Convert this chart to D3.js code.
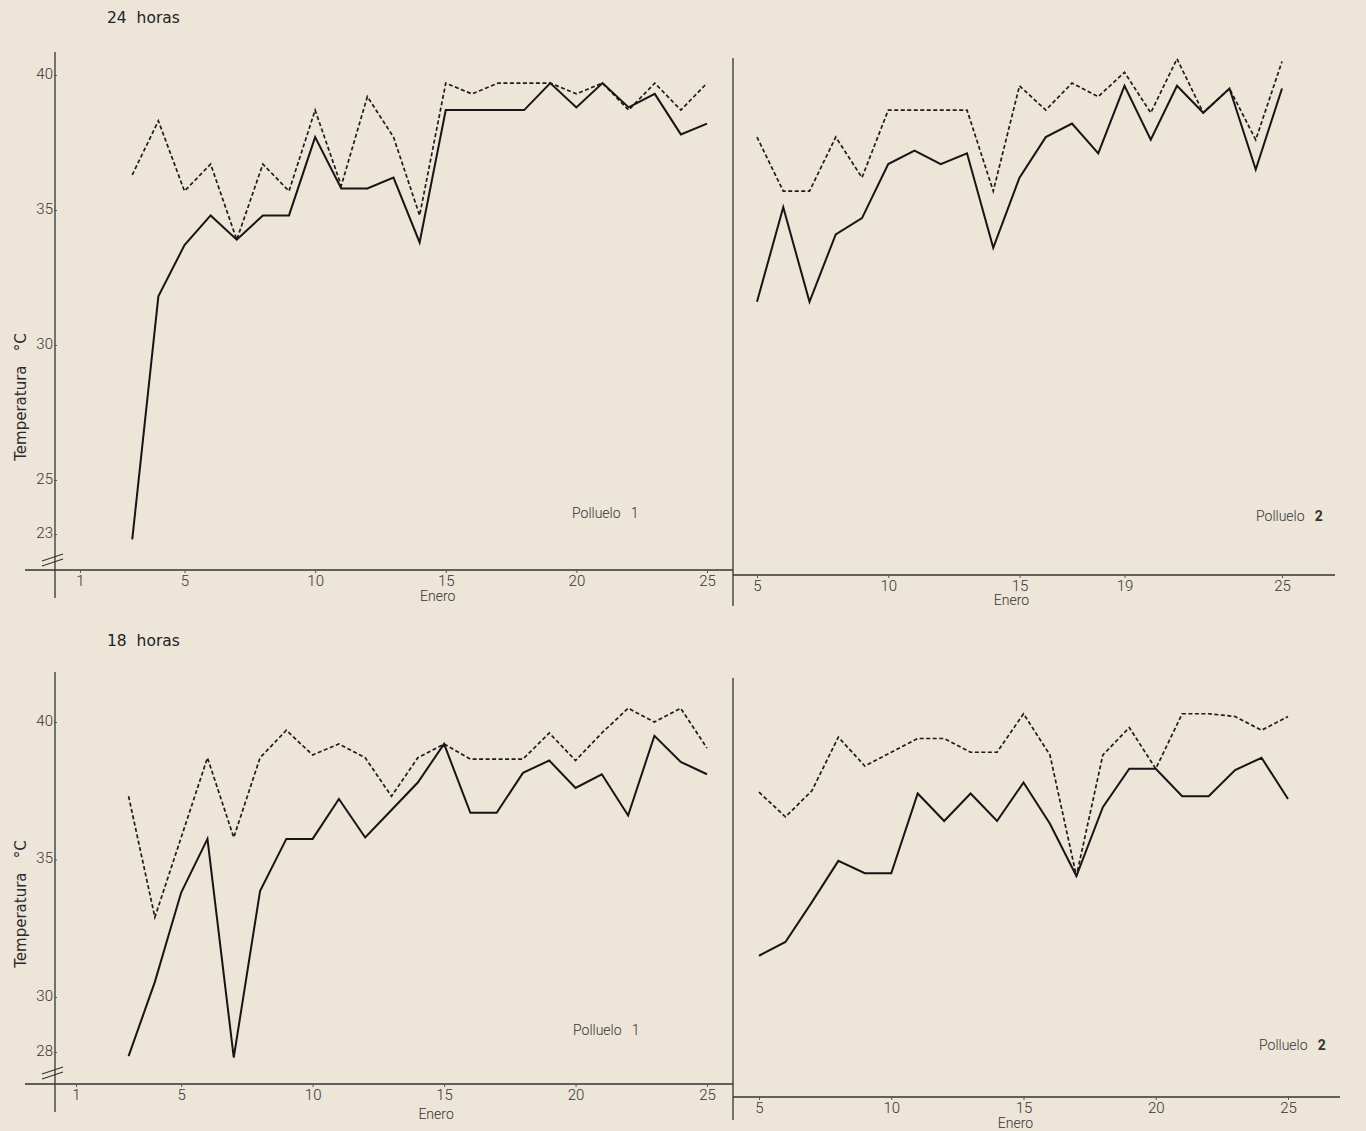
<!DOCTYPE html>
<html>
<head>
<meta charset="utf-8">
<script src="https://cdn.jsdelivr.net/npm/d3@7"></script>
<style>
  body { margin: 0; background: #ece5d8; }
  svg { display: block; background: #ece5d8; }
  .tick text { font-family: Roboto, 'Liberation Sans', sans-serif; font-weight: 300; font-size: 15px; fill: #333; }
  .tick line { stroke: #555; stroke-width: 1; }
  .lbl { font-family: Roboto, 'Liberation Sans', sans-serif; font-weight: 300; font-size: 14px; fill: #333; white-space: pre; }
  .title { font-family: 'DejaVu Sans', sans-serif; font-size: 15.5px; fill: #222; white-space: pre; }
  .ylab { font-family: 'DejaVu Sans', sans-serif; font-size: 15px; fill: #2a2a2a; white-space: pre; }
  .frame { stroke: #333; stroke-width: 1.3; fill: none; }
  .solid { stroke: #151515; stroke-width: 2; fill: none; stroke-linejoin: miter; }
  .dashed { stroke: #1c1c1c; stroke-width: 1.7; fill: none; stroke-dasharray: 4,2.5; }
</style>
</head>
<body>
<svg width="1366" height="1131"></svg>
<script>
/**********************
 Data
**********************/
// days of January
var daysP1 = d3.range(3, 26);   // Polluelo 1 : 3..25
var daysP2 = d3.range(5, 26);   // Polluelo 2 : 5..25

// 24 horas
var p1Solid24  = [22.8, 31.8, 33.7, 34.8, 33.9, 34.8, 34.8, 37.7, 35.8, 35.8, 36.2, 33.8, 38.7, 38.7, 38.7, 38.7, 39.7, 38.8, 39.7, 38.8, 39.3, 37.8, 38.2];
var p1Dashed24 = [36.3, 38.3, 35.7, 36.7, 33.9, 36.7, 35.7, 38.7, 35.9, 39.2, 37.7, 34.8, 39.7, 39.3, 39.7, 39.7, 39.7, 39.3, 39.7, 38.7, 39.7, 38.7, 39.7];
var p2Solid24  = [31.6, 35.1, 31.6, 34.1, 34.7, 36.7, 37.2, 36.7, 37.1, 33.6, 36.2, 37.7, 38.2, 37.1, 39.6, 37.6, 39.6, 38.6, 39.5, 36.5, 39.5];
var p2Dashed24 = [37.7, 35.7, 35.7, 37.7, 36.2, 38.7, 38.7, 38.7, 38.7, 35.7, 39.6, 38.7, 39.7, 39.2, 40.1, 38.6, 40.6, 38.6, 39.5, 37.6, 40.5];

// 18 horas
var p1Solid18  = [27.85, 30.55, 33.8, 35.75, 27.8, 33.85, 35.75, 35.75, 37.2, 35.8, 36.8, 37.8, 39.2, 36.7, 36.7, 38.15, 38.6, 37.6, 38.1, 36.6, 39.5, 38.55, 38.1];
var p1Dashed18 = [37.3, 32.9, 35.8, 38.7, 35.8, 38.7, 39.7, 38.8, 39.2, 38.7, 37.3, 38.7, 39.2, 38.65, 38.65, 38.65, 39.6, 38.6, 39.6, 40.5, 40.0, 40.5, 39.05];
var p2Solid18  = [31.5, 32.0, 33.45, 34.95, 34.5, 34.5, 37.4, 36.4, 37.4, 36.4, 37.8, 36.3, 34.4, 36.9, 38.3, 38.3, 37.3, 37.3, 38.25, 38.7, 37.2];
var p2Dashed18 = [37.45, 36.55, 37.5, 39.45, 38.4, 38.9, 39.4, 39.4, 38.9, 38.9, 40.3, 38.8, 34.4, 38.8, 39.8, 38.3, 40.3, 40.3, 40.2, 39.7, 40.2];

// tick labels
var yTicks24 = [23, 25, 30, 35, 40];
var yTicks18 = [28, 30, 35, 40];
var xTicksP1 = [1, 5, 10, 15, 20, 25];
var xTicksP2top = [5, 10, 15, 19, 25];
var xTicksP2bot = [5, 10, 15, 20, 25];

/**********************
 Layout
**********************/
var svg = d3.select('svg');

var rows = [
  {title: '24  horas', titleY: 23, yDomain: [23, 40], yRange: [534, 75], yTicks: yTicks24,
   axisTop: 52, axisBottom: 598, breakY: 557, ylabY: 397},
  {title: '18  horas', titleY: 646, yDomain: [28, 40], yRange: [1052, 722], yTicks: yTicks18,
   axisTop: 672, axisBottom: 1112, breakY: 1070, ylabY: 904}
];

var panels = [
  {row: 0, days: daysP1, solid: p1Solid24, dashed: p1Dashed24, xDomain: [1, 25], xRange: [80, 707],
   xTicks: xTicksP1, baseY: 570, lineX: [25, 733], chick: '1', bold: false, labelX: 572, labelY: 518, eneroY: 601},
  {row: 0, days: daysP2, solid: p2Solid24, dashed: p2Dashed24, xDomain: [5, 25], xRange: [757, 1282],
   xTicks: xTicksP2top, baseY: 575, lineX: [733, 1335], chick: '2', bold: true, labelX: 1256, labelY: 521, eneroY: 605},
  {row: 1, days: daysP1, solid: p1Solid18, dashed: p1Dashed18, xDomain: [1, 25], xRange: [76, 707],
   xTicks: xTicksP1, baseY: 1084, lineX: [25, 733], chick: '1', bold: false, labelX: 573, labelY: 1035, eneroY: 1119},
  {row: 1, days: daysP2, solid: p2Solid18, dashed: p2Dashed18, xDomain: [5, 25], xRange: [759, 1288],
   xTicks: xTicksP2bot, baseY: 1097, lineX: [733, 1340], chick: '2', bold: true, labelX: 1259, labelY: 1050, eneroY: 1128}
];

/**********************
 Row frames: title, y axis, divider
**********************/
rows.forEach(function(r) {
  r.yScale = d3.scaleLinear().domain(r.yDomain).range(r.yRange);

  svg.append('text').attr('class', 'title')
    .attr('x', 107).attr('y', r.titleY)
    .text(r.title);

  // main vertical axis
  svg.append('line').attr('class', 'frame')
    .attr('x1', 55).attr('x2', 55)
    .attr('y1', r.axisTop).attr('y2', r.axisBottom);

  // divider between the two chicks
  svg.append('line').attr('class', 'frame')
    .attr('x1', 733).attr('x2', 733)
    .attr('y1', r.axisTop + 6).attr('y2', r.axisBottom + 8);

  var yAxisG = svg.append('g')
    .attr('transform', 'translate(57,0)')
    .call(d3.axisLeft(r.yScale).tickValues(r.yTicks).tickSize(3).tickPadding(0));
  yAxisG.select('.domain').remove();
  yAxisG.selectAll('.tick text').attr('dy', '0.2em').attr('dx', '-1');

  // axis break mark
  [0, 5].forEach(function(o) {
    svg.append('line').attr('class', 'frame')
      .attr('x1', 42).attr('y1', r.breakY + 4 + o)
      .attr('x2', 63).attr('y2', r.breakY - 3 + o);
  });

  svg.append('text').attr('class', 'ylab')
    .attr('transform', 'translate(26,' + r.ylabY + ') rotate(-90)')
    .attr('text-anchor', 'middle')
    .text('Temperatura   °C');
});

/**********************
 Panels: x axis + lines
**********************/
panels.forEach(function(p) {
  var yScale = rows[p.row].yScale;
  var xScale = d3.scaleLinear().domain(p.xDomain).range(p.xRange);

  svg.append('line').attr('class', 'frame')
    .attr('x1', p.lineX[0]).attr('x2', p.lineX[1])
    .attr('y1', p.baseY).attr('y2', p.baseY);

  var xAxisG = svg.append('g')
    .attr('transform', 'translate(0,' + p.baseY + ')')
    .call(d3.axisBottom(xScale).tickValues(p.xTicks).tickSize(3).tickPadding(2));
  xAxisG.select('.domain').remove();

  svg.append('text').attr('class', 'lbl')
    .attr('x', xScale(15) - 8).attr('y', p.eneroY)
    .attr('text-anchor', 'middle')
    .text('Enero');

  var lab = svg.append('text').attr('class', 'lbl')
    .attr('x', p.labelX).attr('y', p.labelY);
  lab.append('tspan').text('Polluelo   ');
  lab.append('tspan')
    .style('font-weight', p.bold ? 700 : 300)
    .text(p.chick);

  var line = d3.line()
    .x(function(d) { return xScale(d[0]); })
    .y(function(d) { return yScale(d[1]); });

  svg.append('path').attr('class', 'dashed')
    .attr('d', line(d3.zip(p.days, p.dashed)));

  svg.append('path').attr('class', 'solid')
    .attr('d', line(d3.zip(p.days, p.solid)));
});
</script>
</body>
</html>
